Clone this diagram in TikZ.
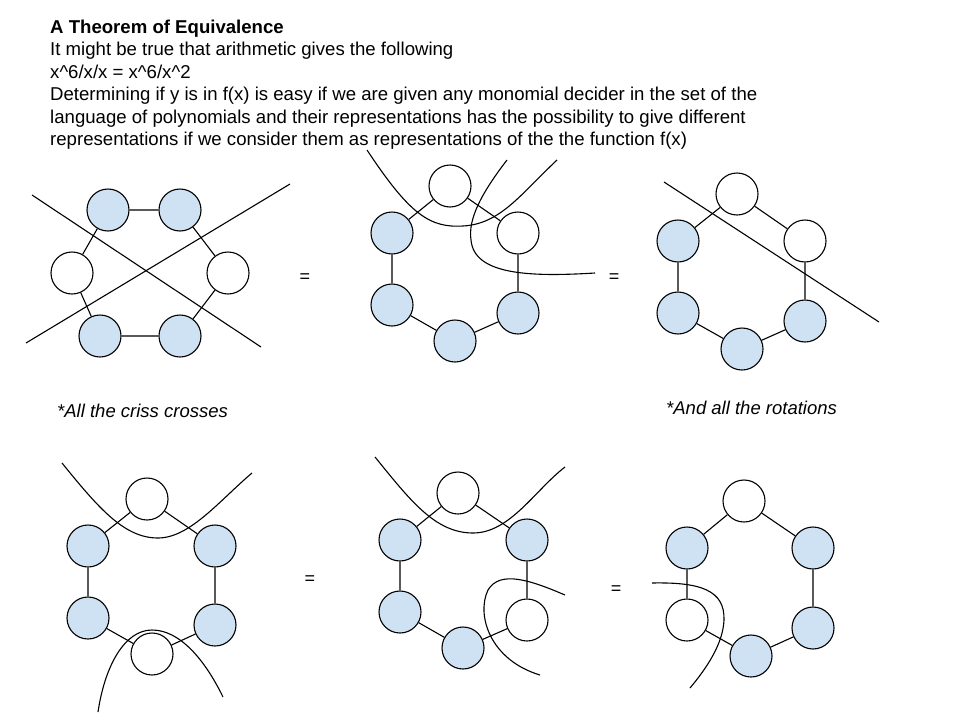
\documentclass[tikz,border=0pt]{standalone}
\usepackage{fontspec}
\setmainfont{Liberation Sans}
\definecolor{nodeblue}{HTML}{CFE2F3}
\tikzset{
  bnode/.style={circle,draw=black,line width=1.1pt,fill=nodeblue,minimum size=42pt,inner sep=0pt},
  wnode/.style={circle,draw=black,line width=1.1pt,fill=white,minimum size=42pt,inner sep=0pt},
  edge/.style={draw=black,line width=1.1pt},
  cut/.style={draw=black,line width=1.1pt},
  txt/.style={anchor=base west,inner sep=0pt,font=\fontsize{18.6pt}{21pt}\selectfont},
  eqs/.style={inner sep=0pt,font=\fontsize{18pt}{21pt}\selectfont}
}
\begin{document}
\begin{tikzpicture}[x=1pt,y=-1pt]
\useasboundingbox (0,0) rectangle (960,720);
% text
\node[txt,font=\fontsize{18.6pt}{21pt}\selectfont\bfseries] (t1) at (50,33) {A Theorem of Equivalence};
\node[txt] (t2) at (50,55.5) {It might be true that arithmetic gives the following};
\node[txt] (t3) at (50,78) {x\^{}6/x/x = x\^{}6/x\^{}2};
\node[txt] (t4) at (50,100.5) {Determining if y is in f(x) is easy if we are given any monomial decider in the set of the};
\node[txt] (t5) at (50,123) {language of polynomials and their representations has the possibility to give different};
\node[txt] (t6) at (50,145.5) {representations if we consider them as representations of the the function f(x)};
\node[txt,font=\fontsize{18.5pt}{21pt}\selectfont\itshape] (c1) at (57,417) {*All the criss crosses};
\node[txt,font=\fontsize{18.5pt}{21pt}\selectfont\itshape] (c2) at (666,414) {*And all the rotations};
% equals
\node[eqs] (e1) at (305,278) {=};
\node[eqs] (e2) at (614,278) {=};
\node[eqs] (e3) at (310,580) {=};
\node[eqs] (e4) at (616,590) {=};

% ---------- Diagram 1
\node[bnode] (a1) at (108,210) {};
\node[bnode] (a2) at (180,210) {};
\node[wnode] (a3) at (228,273) {};
\node[bnode] (a4) at (180,336) {};
\node[bnode] (a5) at (100,336) {};
\node[wnode] (a6) at (72,273) {};
\draw[edge] (a1)--(a2) (a2)--(a3) (a3)--(a4) (a4)--(a5) (a5)--(a6) (a6)--(a1);
\coordinate (d1a) at (32,195);
\coordinate (d1b) at (261,347);
\coordinate (d1c) at (26,343);
\coordinate (d1d) at (290,184);
\draw[cut] (d1a) -- (d1b);
\draw[cut] (d1c) -- (d1d);

% ---------- Diagram 2
\node[wnode] (b1) at (450,186) {};
\node[wnode] (b2) at (518,233) {};
\node[bnode] (b3) at (518,313) {};
\node[bnode] (b4) at (455,341) {};
\node[bnode] (b5) at (392,305) {};
\node[bnode] (b6) at (392,233) {};
\draw[edge] (b1)--(b2) (b2)--(b3) (b3)--(b4) (b4)--(b5) (b5)--(b6) (b6)--(b1);
\draw[cut] (367,150) .. controls (410,215) and (430,228) .. (463,226)
  .. controls (500,224) and (520,195) .. (557,160);
\draw[cut] (507,160) .. controls (480,195) and (468,220) .. (471,240)
  .. controls (474,275) and (530,277) .. (595,273);

% ---------- Diagram 3
\node[wnode] (g1) at (737,194) {};
\node[wnode] (g2) at (805,241) {};
\node[bnode] (g3) at (805,321) {};
\node[bnode] (g4) at (742,349) {};
\node[bnode] (g5) at (678,313) {};
\node[bnode] (g6) at (678,241) {};
\draw[edge] (g1)--(g2) (g2)--(g3) (g3)--(g4) (g4)--(g5) (g5)--(g6) (g6)--(g1);
\coordinate (d3a) at (664,182);
\coordinate (d3b) at (879,322);
\draw[cut] (d3a) -- (d3b);

% ---------- Diagram 4
\node[wnode] (h1) at (147,499) {};
\node[bnode] (h2) at (215,546) {};
\node[bnode] (h3) at (215,625) {};
\node[wnode] (h4) at (152,654) {};
\node[bnode] (h5) at (88,618) {};
\node[bnode] (h6) at (88,546) {};
\draw[edge] (h1)--(h2) (h2)--(h3) (h3)--(h4) (h4)--(h5) (h5)--(h6) (h6)--(h1);
\draw[cut] (62,463) .. controls (100,510) and (125,538) .. (158,538)
  .. controls (190,538) and (220,500) .. (252,473);
\draw[cut] (98,712) .. controls (105,665) and (125,630) .. (152,630)
  .. controls (180,630) and (205,660) .. (223,697);

% ---------- Diagram 5
\node[wnode] (k1) at (458,493) {};
\node[bnode] (k2) at (527,540) {};
\node[wnode] (k3) at (527,620) {};
\node[bnode] (k4) at (463,648) {};
\node[bnode] (k5) at (400,612) {};
\node[bnode] (k6) at (400,540) {};
\draw[edge] (k1)--(k2) (k2)--(k3) (k3)--(k4) (k4)--(k5) (k5)--(k6) (k6)--(k1);
\draw[cut] (375,457) .. controls (410,500) and (435,533) .. (473,533)
  .. controls (510,533) and (535,490) .. (565,467);
\draw[cut] (565,595) .. controls (530,580) and (500,570) .. (488,590)
  .. controls (476,615) and (490,660) .. (540,675);

% ---------- Diagram 6
\node[wnode] (m1) at (744,501) {};
\node[bnode] (m2) at (813,548) {};
\node[bnode] (m3) at (813,628) {};
\node[bnode] (m4) at (751,656) {};
\node[wnode] (m5) at (687,620) {};
\node[bnode] (m6) at (687,548) {};
\draw[edge] (m1)--(m2) (m2)--(m3) (m3)--(m4) (m4)--(m5) (m5)--(m6) (m6)--(m1);
\draw[cut] (652,583) .. controls (700,582) and (725,590) .. (724,620)
  .. controls (723,645) and (705,670) .. (690,688);
\end{tikzpicture}
\end{document}
